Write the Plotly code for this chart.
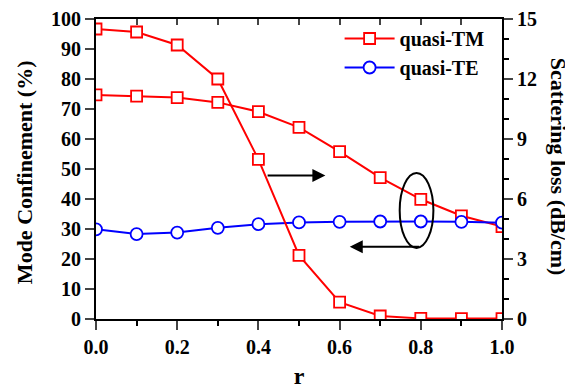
import plotly.graph_objects as go

r = [0.0, 0.1, 0.2, 0.3, 0.4, 0.5, 0.6, 0.7, 0.8, 0.9, 1.0]
tm_confinement = [74.7, 74.3, 73.8, 72.2, 69.1, 63.9, 55.8, 47.1, 39.9, 34.4, 30.8]
te_confinement = [29.9, 28.3, 28.8, 30.4, 31.6, 32.2, 32.4, 32.5, 32.5, 32.4, 32.1]
tm_loss = [14.5, 14.35, 13.7, 12.0, 7.98, 3.18, 0.84, 0.15, 0.03, 0.02, 0.02]

FONT = "Liberation Serif"
RED = "#ff0000"
BLUE = "#0000ff"

fig = go.Figure()
fig.add_trace(go.Scatter(x=r, y=tm_confinement, name="quasi-TM", mode="lines+markers",
                         line=dict(color=RED, width=2),
                         marker=dict(symbol="square", size=11, color="white",
                                     line=dict(color=RED, width=1.8))))
fig.add_trace(go.Scatter(x=r, y=te_confinement, name="quasi-TE", mode="lines+markers",
                         line=dict(color=BLUE, width=2),
                         marker=dict(symbol="circle", size=12, color="white",
                                     line=dict(color=BLUE, width=1.8))))
fig.add_trace(go.Scatter(x=r, y=tm_loss, yaxis="y2", mode="lines+markers", showlegend=False,
                         line=dict(color=RED, width=2),
                         marker=dict(symbol="square", size=11, color="white",
                                     line=dict(color=RED, width=1.8))))
# invisible trace for top axis
fig.add_trace(go.Scatter(x=[0, 1], y=[0, 0], xaxis="x2", mode="none", showlegend=False,
                         hoverinfo="skip"))

tickfont = dict(family=FONT, size=20, color="black", weight="bold")

fig.update_layout(
    width=565, height=381,
    margin=dict(l=88, r=71, t=11, b=70),
    paper_bgcolor="white", plot_bgcolor="white",
    font=dict(family=FONT, size=20, color="black", weight="bold"),
    xaxis=dict(range=[0, 1], dtick=0.2, tickformat=".1f", ticks="outside", ticklen=9,
               tickwidth=2, showline=True, linewidth=2, linecolor="black", automargin=False,
               showgrid=False, zeroline=False, tickfont=tickfont,
               minor=dict(dtick=0.1, ticks="outside", ticklen=5, tickwidth=2, tickcolor="black"),
               title=dict(text="r", font=dict(family=FONT, size=24, weight="bold"), standoff=10)),
    xaxis2=dict(range=[0, 1], overlaying="x", side="top", dtick=0.1, ticks="inside",
                ticklen=6, tickwidth=2, showticklabels=False, showline=True, linewidth=2,
                linecolor="black", showgrid=False, zeroline=False, automargin=False),
    yaxis=dict(range=[0, 100], dtick=10, ticks="outside", ticklen=9, tickwidth=2,
               showline=True, linewidth=2, linecolor="black", showgrid=False, automargin=False,
               zeroline=False, tickfont=tickfont),
    yaxis2=dict(range=[0, 15], dtick=3, overlaying="y", side="right", ticks="outside",
                ticklen=9, tickwidth=2, showline=True, linewidth=2, linecolor="black",
                showgrid=False, zeroline=False, tickfont=tickfont, automargin=False,
                minor=dict(dtick=1, ticks="outside", ticklen=5, tickwidth=2, tickcolor="black")),
    legend=dict(x=0.60, y=1.0, xanchor="left", yanchor="top", bgcolor="rgba(0,0,0,0)",
                font=dict(family=FONT, size=20, weight="bold"), tracegroupgap=0,
                itemwidth=50),
    showlegend=True,
)

# axis titles as annotations
fig.add_annotation(text="Mode Confinement (%)", xref="paper", yref="paper", x=-0.177, y=0.49,
                   xanchor="center", yanchor="middle", textangle=-90, showarrow=False,
                   font=dict(family=FONT, size=22, weight="bold", color="black"))
fig.add_annotation(text="Scattering loss (dB/cm)", xref="paper", yref="paper", x=1.138, y=0.507,
                   xanchor="center", yanchor="middle", textangle=90, showarrow=False,
                   font=dict(family=FONT, size=22, weight="bold", color="black"))

# ellipse and arrows
fig.add_shape(type="circle", xref="x", yref="y", x0=0.748, x1=0.831, y0=23.7, y1=48.7,
              line=dict(color="black", width=2))
fig.add_annotation(x=0.565, y=47.8, ax=0.419, ay=47.8, xref="x", yref="y", axref="x", ayref="y",
                   showarrow=True, arrowhead=2, arrowsize=1.3, arrowwidth=2, arrowcolor="black",
                   text="")
fig.add_annotation(x=0.625, y=24.1, ax=0.80, ay=24.1, xref="x", yref="y", axref="x", ayref="y",
                   showarrow=True, arrowhead=2, arrowsize=1.3, arrowwidth=2, arrowcolor="black",
                   text="")

fig.write_html("out.html")
